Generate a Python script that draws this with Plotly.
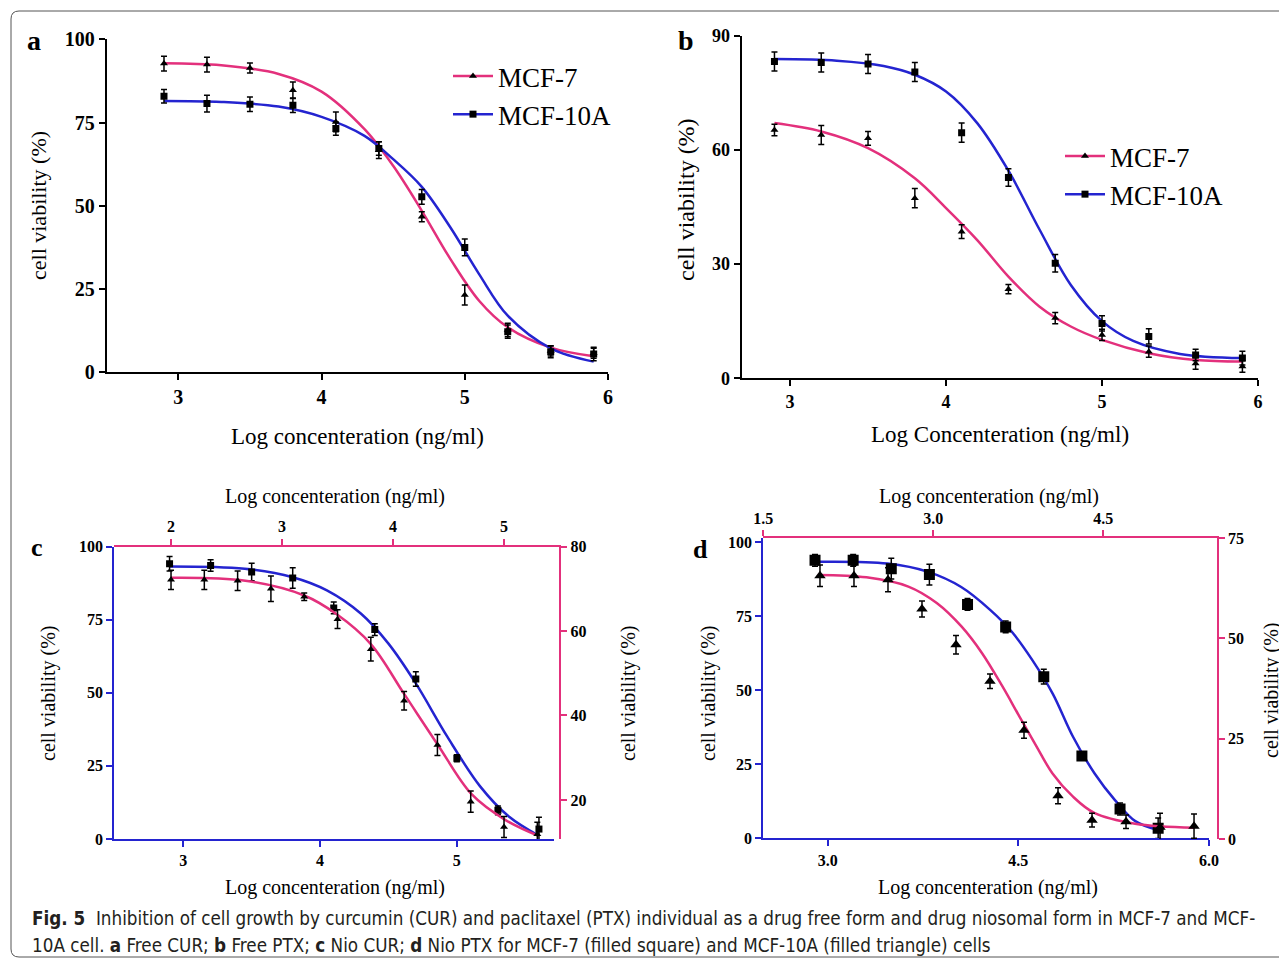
import plotly.graph_objects as go

W, H = 1287, 963
OFF = 8  # the page body adds an 8 px margin around the figure
PINK = "#e3307c"
BLUE = "#2424d0"
SERIF = "Liberation Serif, Times New Roman, serif"
SANS = "Liberation Sans Narrow, DejaVu Sans Condensed, Roboto, sans-serif"

# ---- panel a : free CUR ----
A_X = [2.9, 3.2, 3.5, 3.8, 4.1, 4.4, 4.7, 5.0, 5.3, 5.6, 5.9]
A_MCF7 = [92.7, 92.4, 91.4, 84.7, 75.2, 66.7, 46.7, 23.2, 12.7, 6.4, 5.7]
A_MCF7_ERR = [2.2, 2.2, 1.5, 2.5, 3.0, 2.5, 1.5, 3.0, 2.0, 1.5, 1.5]
A_MCF10A = [82.9, 80.7, 80.5, 80.2, 73.2, 67.2, 52.7, 37.5, 12.2, 6.2, 5.5]
A_MCF10A_ERR = [2.0, 2.5, 2.2, 2.2, 2.0, 2.0, 2.2, 2.5, 2.0, 1.8, 2.0]
A_FIT_X = [2.9, 3.3, 3.7, 4.0, 4.3, 4.5, 4.7, 4.9, 5.1, 5.3, 5.6, 5.9]
A_FIT_MCF7 = [92.8, 92.2, 89.6, 84.3, 73.0, 62.0, 48.5, 34.0, 21.5, 13.5, 7.4, 4.8]
A_FIT_MCF10A = [81.5, 81.2, 79.8, 76.7, 71.0, 64.0, 55.7, 43.5, 29.5, 17.0, 7.2, 3.2]

# ---- panel b : free PTX ----
B_X = [2.9, 3.2, 3.5, 3.8, 4.1, 4.4, 4.7, 5.0, 5.3, 5.6, 5.9]
B_MCF7 = [65.2, 63.9, 63.0, 47.3, 38.5, 23.4, 15.8, 11.4, 7.0, 3.9, 3.1]
B_MCF7_ERR = [1.5, 2.5, 1.8, 2.5, 1.8, 1.2, 1.5, 1.5, 1.5, 1.5, 1.5]
B_MCF10A = [83.2, 82.9, 82.5, 80.4, 64.5, 52.7, 30.2, 14.4, 11.0, 6.1, 5.3]
B_MCF10A_ERR = [2.5, 2.5, 2.5, 2.5, 2.5, 2.3, 2.3, 2.0, 2.0, 1.5, 1.8]
B_FIT_X = [2.9, 3.3, 3.6, 3.8, 4.0, 4.2, 4.4, 4.6, 4.8, 5.0, 5.2, 5.5, 5.9]
B_FIT_MCF10A = [83.8, 83.4, 82.0, 79.7, 75.3, 67.0, 54.5, 39.0, 24.5, 15.0, 9.8, 6.4, 5.3]
B_FIT7_X = [2.9, 3.2, 3.5, 3.8, 4.0, 4.2, 4.4, 4.6, 4.8, 5.0, 5.3, 5.6, 5.9]
B_FIT_MCF7 = [67.0, 64.8, 60.4, 52.5, 44.7, 36.3, 26.7, 18.8, 13.6, 10.1, 6.6, 4.8, 4.4]

# ---- panel c : Nio CUR (squares on bottom/left axes, triangles on top/right axes) ----
C_SQ_X = [2.9, 3.2, 3.5, 3.8, 4.1, 4.4, 4.7, 5.0, 5.3, 5.6]
C_SQ = [94.1, 93.5, 91.3, 89.2, 79.0, 71.6, 54.7, 27.6, 9.8, 3.4]
C_SQ_ERR = [2.5, 2.0, 3.0, 3.5, 2.0, 2.0, 2.5, 1.2, 1.5, 4.0]
C_TRI_X = [2.0, 2.3, 2.6, 2.9, 3.2, 3.5, 3.8, 4.1, 4.4, 4.7, 5.0, 5.3]
C_TRI = [72.1, 72.1, 71.9, 70.0, 68.1, 62.8, 55.7, 43.5, 33.0, 19.6, 13.6, 11.9]
C_TRI_ERR = [2.3, 2.3, 2.3, 3.0, 0.9, 2.2, 2.8, 2.2, 2.5, 2.5, 2.5, 2.8]
C_FIT_SQ_X = [2.9, 3.45, 3.8, 4.05, 4.3, 4.5, 4.7, 4.93, 5.17, 5.38, 5.6]
C_FIT_SQ = [93.2, 92.4, 89.5, 85.0, 77.0, 66.8, 53.2, 35.0, 18.0, 7.7, 1.1]
C_FIT_TRI_X = [2.0, 2.67, 3.2, 3.49, 3.8, 4.1, 4.4, 4.71, 5.01, 5.31]
C_FIT_TRI = [72.6, 71.9, 68.4, 64.0, 56.9, 45.1, 33.2, 21.3, 15.3, 11.5]

# ---- panel d : Nio PTX ----
D_SQ_X = [2.9, 3.2, 3.5, 3.8, 4.1, 4.4, 4.7, 5.0, 5.3, 5.6]
D_SQ = [93.9, 93.9, 91.1, 89.1, 79.0, 71.4, 54.6, 27.8, 9.9, 3.4]
D_SQ_ERR = [2.0, 2.0, 3.5, 3.5, 2.0, 2.0, 2.5, 1.0, 2.0, 3.5]
D_TRI_X = [2.0, 2.3, 2.6, 2.9, 3.2, 3.5, 3.8, 4.1, 4.4, 4.7, 5.0, 5.3]
D_TRI = [65.6, 65.6, 64.6, 57.3, 48.4, 39.3, 27.1, 10.8, 4.7, 4.3, 2.9, 3.2]
D_TRI_ERR = [2.7, 2.7, 3.0, 2.0, 2.3, 1.8, 2.0, 2.0, 1.7, 1.7, 3.5, 3.0]
D_FIT_SQ_X = [2.89, 3.47, 3.79, 4.05, 4.28, 4.45, 4.61, 4.77, 4.93, 5.1, 5.26, 5.42, 5.6]
D_FIT_SQ = [93.4, 92.8, 90.0, 84.9, 77.1, 69.7, 60.2, 48.9, 34.3, 21.9, 12.9, 5.8, 2.8]
D_FIT_TRI_X = [1.98, 2.41, 2.78, 3.03, 3.25, 3.43, 3.61, 3.76, 3.91, 4.05, 4.23, 4.42, 4.78, 5.3]
D_FIT_TRI = [65.8, 65.2, 62.9, 58.8, 52.9, 46.3, 38.0, 30.5, 23.1, 16.4, 10.6, 6.5, 3.8, 2.8]

CAPTION_1 = ("<b>Fig. 5</b>  Inhibition of cell growth by curcumin (CUR) and paclitaxel (PTX) "
             "individual as a drug free form and drug niosomal form in MCF-7 and MCF-")
CAPTION_2 = ("10A cell. <b>a</b> Free CUR; <b>b</b> Free PTX; <b>c</b> Nio CUR; <b>d</b> Nio PTX "
             "for MCF-7 (filled square) and MCF-10A (filled triangle) cells")


def fx(p):
    return (p - OFF) / W


def fy(p):
    return 1 - (p - OFF) / H


def axis(x0, x1, rng, tickvals, color, size, ticktext=None, **kw):
    d = dict(domain=[x0, x1], range=rng, tickvals=tickvals, showline=True, linecolor=color,
             linewidth=2, ticks="outside", ticklen=6, tickwidth=2, tickcolor=color,
             showgrid=False, zeroline=False, mirror=False, automargin=False,
             tickfont=dict(family=SERIF, size=size, color="black", weight="bold"))
    if ticktext:
        d["ticktext"] = ticktext
    d.update(kw)
    return d


fig = go.Figure()


def fit(x, y, color, xa, ya):
    fig.add_trace(go.Scatter(x=x, y=y, mode="lines", line=dict(color=color, width=2.5, shape="spline"),
                             xaxis=xa, yaxis=ya, showlegend=False, hoverinfo="skip"))


def pts(x, y, err, symbol, size, xa, ya):
    fig.add_trace(go.Scatter(x=x, y=y, mode="markers",
                             marker=dict(symbol=symbol, color="black", size=size),
                             error_y=dict(type="data", array=err, color="black", thickness=1.5, width=3),
                             xaxis=xa, yaxis=ya, showlegend=False))


def key(name, color, symbol, xa, ya, legend):
    fig.add_trace(go.Scatter(x=[None], y=[None], mode="lines+markers", name=name,
                             line=dict(color=color, width=2.5),
                             marker=dict(symbol=symbol, color="black", size=7),
                             xaxis=xa, yaxis=ya, legend=legend))


# panel a
fit(A_FIT_X, A_FIT_MCF7, PINK, "x", "y")
fit(A_FIT_X, A_FIT_MCF10A, BLUE, "x", "y")
pts(A_X, A_MCF7, A_MCF7_ERR, "triangle-up", 7, "x", "y")
pts(A_X, A_MCF10A, A_MCF10A_ERR, "square", 7, "x", "y")
key("MCF-7", PINK, "triangle-up", "x", "y", "legend")
key("MCF-10A", BLUE, "square", "x", "y", "legend")

# panel b
fit(B_FIT7_X, B_FIT_MCF7, PINK, "x2", "y2")
fit(B_FIT_X, B_FIT_MCF10A, BLUE, "x2", "y2")
pts(B_X, B_MCF7, B_MCF7_ERR, "triangle-up", 7, "x2", "y2")
pts(B_X, B_MCF10A, B_MCF10A_ERR, "square", 7, "x2", "y2")
key("MCF-7", PINK, "triangle-up", "x2", "y2", "legend2")
key("MCF-10A", BLUE, "square", "x2", "y2", "legend2")

# panel c
fit(C_FIT_SQ_X, C_FIT_SQ, BLUE, "x3", "y3")
pts(C_SQ_X, C_SQ, C_SQ_ERR, "square", 7, "x3", "y3")
fit(C_FIT_TRI_X, C_FIT_TRI, PINK, "x4", "y4")
pts(C_TRI_X, C_TRI, C_TRI_ERR, "triangle-up", 7, "x4", "y4")

# panel d
fit(D_FIT_SQ_X, D_FIT_SQ, BLUE, "x5", "y5")
pts(D_SQ_X, D_SQ, D_SQ_ERR, "square", 11, "x5", "y5")
fit(D_FIT_TRI_X, D_FIT_TRI, PINK, "x6", "y6")
pts(D_TRI_X, D_TRI, D_TRI_ERR, "triangle-up", 10, "x6", "y6")

layout = dict(
    width=W, height=H, margin=dict(l=0, r=0, t=0, b=0, autoexpand=False),
    paper_bgcolor="white", plot_bgcolor="rgba(0,0,0,0)",
    font=dict(family=SERIF, color="black"),
    xaxis=axis(fx(106.7), fx(608), [2.5, 6.0], [3, 4, 5, 6], "black", 20, anchor="y"),
    yaxis=axis(fy(372.3), fy(39.3), [0, 100], [0, 25, 50, 75, 100], "black", 20, anchor="x"),
    xaxis2=axis(fx(741.7), fx(1258), [2.69, 6.0], [3, 4, 5, 6], "black", 18, anchor="y2"),
    yaxis2=axis(fy(378.3), fy(35.5), [0, 90], [0, 30, 60, 90], "black", 18, anchor="x2"),
    xaxis3=axis(fx(114.3), fx(554), [2.496, 5.71], [3, 4, 5], BLUE, 16, anchor="y3"),
    yaxis3=axis(fy(839), fy(546.5), [0, 100], [0, 25, 50, 75, 100], BLUE, 16, anchor="x3"),
    xaxis4=axis(fx(114.3), fx(559.3), [1.489, 5.498], [2, 3, 4, 5], PINK, 16, anchor="y4", side="top"),
    yaxis4=axis(fy(839), fy(546.5), [10.76, 80], [20, 40, 60, 80], PINK, 16, anchor="x4", side="right"),
    xaxis5=axis(fx(763.3), fx(1209), [2.493, 6.0], [3.0, 4.5, 6.0], BLUE, 16,
                ticktext=["3.0", "4.5", "6.0"], anchor="y5"),
    yaxis5=axis(fy(838.3), fy(538), [0, 101.45], [0, 25, 50, 75, 100], BLUE, 16, anchor="x5"),
    xaxis6=axis(fx(763.3), fx(1216.7), [1.5, 5.5], [1.5, 3.0, 4.5], PINK, 16,
                ticktext=["1.5", "3.0", "4.5"], anchor="y6", side="top"),
    yaxis6=axis(fy(839), fy(538), [0, 75], [0, 25, 50, 75], PINK, 16, anchor="x6", side="right"),
    legend=dict(x=fx(448), y=fy(52), xanchor="left", yanchor="top", bgcolor="rgba(0,0,0,0)",
                font=dict(family=SERIF, size=27), tracegroupgap=6, itemwidth=40),
    legend2=dict(x=fx(1060), y=fy(132), xanchor="left", yanchor="top", bgcolor="rgba(0,0,0,0)",
                 font=dict(family=SERIF, size=27), tracegroupgap=6, itemwidth=40),
)
fig.update_layout(**layout)

ann = []


def text(x, y, s, size, bold=False, angle=0, xanchor="center", family=SERIF):
    ann.append(dict(x=fx(x), y=fy(y), xref="paper", yref="paper", text=f"<b>{s}</b>" if bold else s,
                    showarrow=False, textangle=angle, xanchor=xanchor, yanchor="middle",
                    font=dict(family=family, size=size, color="black")))


# panel letters
text(34, 40, "a", 28, bold=True)
text(686, 40, "b", 28, bold=True)
text(37, 547, "c", 26, bold=True)
text(700, 549, "d", 26, bold=True)

# axis titles
XT = "Log concenteration (ng/ml)"
YT = "cell viability (%)"
text(357, 436, XT, 23)
text(38, 206, YT, 22, angle=-90)
text(1000, 434, "Log Concenteration (ng/ml)", 23)
text(686, 200, YT, 24, angle=-90)
text(335, 497, XT, 20)
text(335, 887, XT, 20)
text(48, 693, YT, 20, angle=-90)
text(628, 693, YT, 20, angle=-90)
text(989, 497, XT, 20)
text(988, 887, XT, 20)
text(708, 693, YT, 20, angle=-90)
text(1271, 690, YT, 20, angle=-90)

# caption
ann.append(dict(x=fx(30), y=fy(918), xref="paper", yref="paper", text=CAPTION_1, showarrow=False,
                xanchor="left", yanchor="middle", font=dict(family=SANS, size=18.7, color="#231f20")))
ann.append(dict(x=fx(30), y=fy(945), xref="paper", yref="paper", text=CAPTION_2, showarrow=False,
                xanchor="left", yanchor="middle", font=dict(family=SANS, size=18.7, color="#231f20")))
fig.update_layout(annotations=ann)

# rounded frame around the figure (right side runs off the page)
r = 8
L, T, B, R = 11, 11, 957, 1300
path = (f"M {fx(R)},{fy(T)} L {fx(L + r)},{fy(T)} Q {fx(L)},{fy(T)} {fx(L)},{fy(T + r)} "
        f"L {fx(L)},{fy(B - r)} Q {fx(L)},{fy(B)} {fx(L + r)},{fy(B)} L {fx(R)},{fy(B)}")
fig.add_shape(type="path", path=path, xref="paper", yref="paper", line=dict(color="#555555", width=1))

fig.write_html("out.html")
